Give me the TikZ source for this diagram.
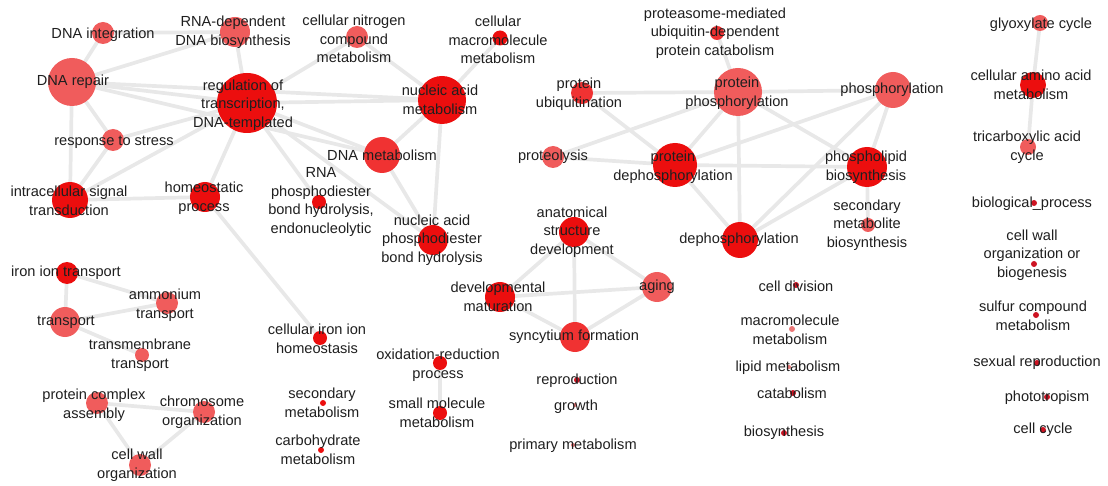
\documentclass[tikz,border=0pt]{standalone}
\usepackage{fontspec}
\setmainfont{Liberation Sans}
\usetikzlibrary{backgrounds}
\definecolor{redA}{RGB}{236,14,14}
\definecolor{redB}{RGB}{240,50,50}
\definecolor{redC}{RGB}{240,92,92}
\definecolor{darkdot}{RGB}{205,20,35}
\definecolor{pinkdot}{RGB}{235,120,120}
\definecolor{edgecol}{RGB}{232,232,232}
\tikzset{
  dot/.style={circle,inner sep=0pt,draw=none},
  lbl/.style={align=center,inner sep=0pt,font=\fontsize{14.6pt}{18.5pt}\selectfont,text=black!88},
  edge/.style={draw=edgecol,line width=3.7pt},
}
\begin{document}
\begin{tikzpicture}[x=1pt,y=-1pt]
\useasboundingbox (0,0) rectangle (1108,486);
% circles
\node[dot,minimum size=22pt,fill=redC] (dnaint) at (103,33) {};
\node[dot,minimum size=48pt,fill=redC] (dnarep) at (72,82) {};
\node[dot,minimum size=30pt,fill=redC] (rnadep) at (235,32) {};
\node[dot,minimum size=60pt,fill=redA] (reg) at (247,103) {};
\node[dot,minimum size=22pt,fill=redC] (stress) at (113,140) {};
\node[dot,minimum size=36pt,fill=redA] (intra) at (70,200) {};
\node[dot,minimum size=30pt,fill=redA] (homeo) at (205,197) {};
\node[dot,minimum size=22pt,fill=redC] (nitro) at (357,37) {};
\node[dot,minimum size=15pt,fill=redA] (macro) at (500,38) {};
\node[dot,minimum size=48pt,fill=redA] (nucmet) at (442,100) {};
\node[dot,minimum size=36pt,fill=redB] (dnamet) at (382,155) {};
\node[dot,minimum size=14pt,fill=redA] (rnaphos) at (319,202) {};
\node[dot,minimum size=30pt,fill=redA] (nucphos) at (433,240) {};
\node[dot,minimum size=14pt,fill=redB] (proteas) at (717,33) {};
\node[dot,minimum size=22pt,fill=redB] (protubi) at (582,93) {};
\node[dot,minimum size=48pt,fill=redC] (protphos) at (738,92) {};
\node[dot,minimum size=36pt,fill=redC] (phos) at (893,90) {};
\node[dot,minimum size=22pt,fill=redC] (proteo) at (553,157) {};
\node[dot,minimum size=44pt,fill=redA] (protdephos) at (675,165) {};
\node[dot,minimum size=40pt,fill=redA] (phlip) at (867,167) {};
\node[dot,minimum size=14pt,fill=redC] (secmetab) at (868,225) {};
\node[dot,minimum size=36pt,fill=redA] (dephos) at (740,240) {};
\node[dot,minimum size=30pt,fill=redA] (anat) at (574,232) {};
\node[dot,minimum size=30pt,fill=redA] (devmat) at (500,297) {};
\node[dot,minimum size=30pt,fill=redC] (aging) at (657,287) {};
\node[dot,minimum size=30pt,fill=redB] (syncy) at (575,337) {};
\node[dot,minimum size=14pt,fill=redA] (ironhomeo) at (320,338) {};
\node[dot,minimum size=14pt,fill=redA] (redox) at (440,363) {};
\node[dot,minimum size=14pt,fill=redA] (smallmol) at (440,413) {};
\node[dot,minimum size=6pt,fill=redA] (secmet) at (323,403) {};
\node[dot,minimum size=6pt,fill=redA] (carbo) at (321,450) {};
\node[dot,minimum size=6pt,fill=darkdot] (repro) at (577,380) {};
\node[dot,minimum size=4pt,fill=pinkdot] (growth) at (575,405) {};
\node[dot,minimum size=4pt,fill=pinkdot] (primary) at (573,445) {};
\node[dot,minimum size=6pt,fill=darkdot] (celldiv) at (796,285) {};
\node[dot,minimum size=6pt,fill=pinkdot] (macromet) at (792,329) {};
\node[dot,minimum size=4pt,fill=pinkdot] (lipid) at (789,367) {};
\node[dot,minimum size=6pt,fill=darkdot] (catab) at (793,393) {};
\node[dot,minimum size=6pt,fill=darkdot] (biosyn) at (784,433) {};
\node[dot,minimum size=16pt,fill=redC] (glyox) at (1040,23) {};
\node[dot,minimum size=26pt,fill=redA] (aminoacid) at (1033,85) {};
\node[dot,minimum size=16pt,fill=redC] (tca) at (1028,147) {};
\node[dot,minimum size=6pt,fill=darkdot] (bioproc) at (1034,203) {};
\node[dot,minimum size=6pt,fill=darkdot] (cellwallbio) at (1034,264) {};
\node[dot,minimum size=6pt,fill=darkdot] (sulfur) at (1036,315) {};
\node[dot,minimum size=6pt,fill=darkdot] (sexrep) at (1037,363) {};
\node[dot,minimum size=6pt,fill=darkdot] (photo) at (1047,397) {};
\node[dot,minimum size=6pt,fill=darkdot] (cellcycle) at (1043,430) {};
\node[dot,minimum size=22pt,fill=redA] (irontr) at (67,273) {};
\node[dot,minimum size=22pt,fill=redC] (ammon) at (167,303) {};
\node[dot,minimum size=30pt,fill=redC] (transp) at (65,322) {};
\node[dot,minimum size=14pt,fill=redC] (transmem) at (142,355) {};
\node[dot,minimum size=22pt,fill=redC] (protcomplex) at (97,403) {};
\node[dot,minimum size=22pt,fill=redC] (chromo) at (204,412) {};
\node[dot,minimum size=22pt,fill=redC] (cellwall) at (140,465) {};
% labels
\node[lbl] (dnaint-l) at (103,35) {DNA integration};
\node[lbl] (dnarep-l) at (73,82) {DNA repair};
\node[lbl] (rnadep-l) at (233,32) {RNA-dependent\\DNA biosynthesis};
\node[lbl] (reg-l) at (243,105) {regulation of\\transcription,\\DNA-templated};
\node[lbl] (stress-l) at (114,142) {response to stress};
\node[lbl] (intra-l) at (69,201) {intracellular signal\\transduction};
\node[lbl] (homeo-l) at (204,198) {homeostatic\\process};
\node[lbl] (nitro-l) at (354,39) {cellular nitrogen\\compound\\metabolism};
\node[lbl] (macro-l) at (498,40) {cellular\\macromolecule\\metabolism};
\node[lbl] (nucmet-l) at (440,100) {nucleic acid\\metabolism};
\node[lbl] (dnamet-l) at (382,155) {DNA metabolism};
\node[lbl] (rnaphos-l) at (321,202) {RNA\\phosphodiester\\bond hydrolysis,\\endonucleolytic};
\node[lbl] (nucphos-l) at (432,240) {nucleic acid\\phosphodiester\\bond hydrolysis};
\node[lbl] (proteas-l) at (715,33) {proteasome-mediated\\ubiquitin-dependent\\protein catabolism};
\node[lbl] (protubi-l) at (579,94) {protein\\ubiquitination};
\node[lbl] (protphos-l) at (737,93) {protein\\phosphorylation};
\node[lbl] (phos-l) at (892,90) {phosphorylation};
\node[lbl] (proteo-l) at (553,157) {proteolysis};
\node[lbl] (protdephos-l) at (673,167) {protein\\dephosphorylation};
\node[lbl] (phlip-l) at (866,167) {phospholipid\\biosynthesis};
\node[lbl] (secmetab-l) at (867,225) {secondary\\metabolite\\biosynthesis};
\node[lbl] (dephos-l) at (739,240) {dephosphorylation};
\node[lbl] (anat-l) at (572,232) {anatomical\\structure\\development};
\node[lbl] (devmat-l) at (498,297) {developmental\\maturation};
\node[lbl] (aging-l) at (657,287) {aging};
\node[lbl] (syncy-l) at (574,337) {syncytium formation};
\node[lbl] (ironhomeo-l) at (317,339) {cellular iron ion\\homeostasis};
\node[lbl] (redox-l) at (438,365) {oxidation-reduction\\process};
\node[lbl] (smallmol-l) at (437,413) {small molecule\\metabolism};
\node[lbl] (secmet-l) at (322,403) {secondary\\metabolism};
\node[lbl] (carbo-l) at (318,450) {carbohydrate\\metabolism};
\node[lbl] (repro-l) at (577,381) {reproduction};
\node[lbl] (growth-l) at (576,407) {growth};
\node[lbl] (primary-l) at (573,446) {primary metabolism};
\node[lbl] (celldiv-l) at (796,286) {cell division};
\node[lbl] (macromet-l) at (790,330) {macromolecule\\metabolism};
\node[lbl] (lipid-l) at (788,368) {lipid metabolism};
\node[lbl] (catab-l) at (792,393) {catabolism};
\node[lbl] (biosyn-l) at (784,433) {biosynthesis};
\node[lbl] (glyox-l) at (1041,25) {glyoxylate cycle};
\node[lbl] (aminoacid-l) at (1031,85) {cellular amino acid\\metabolism};
\node[lbl] (tca-l) at (1027,147) {tricarboxylic acid\\cycle};
\node[lbl] (bioproc-l) at (1032,204) {biological\_process};
\node[lbl] (cellwallbio-l) at (1032,255) {cell wall\\organization or\\biogenesis};
\node[lbl] (sulfur-l) at (1033,316) {sulfur compound\\metabolism};
\node[lbl] (sexrep-l) at (1037,363) {sexual reproduction};
\node[lbl] (photo-l) at (1047,398) {phototropism};
\node[lbl] (cellcycle-l) at (1043,430) {cell cycle};
\node[lbl] (irontr-l) at (66,273) {iron ion transport};
\node[lbl] (ammon-l) at (165,305) {ammonium\\transport};
\node[lbl] (transp-l) at (66,322) {transport};
\node[lbl] (transmem-l) at (140,355) {transmembrane\\transport};
\node[lbl] (protcomplex-l) at (94,405) {protein complex\\assembly};
\node[lbl] (chromo-l) at (202,412) {chromosome\\organization};
\node[lbl] (cellwall-l) at (137,465) {cell wall\\organization};
% edges
\begin{scope}[on background layer]
\foreach \a/\b in {dnaint/dnarep, dnaint/rnadep, dnarep/rnadep, dnarep/reg, dnarep/nucmet, dnarep/dnamet,
  dnarep/stress, dnarep/intra, stress/intra, stress/reg, intra/reg, intra/homeo, homeo/reg, homeo/ironhomeo,
  reg/rnadep, reg/nitro, reg/nucmet, reg/dnamet, reg/rnaphos, reg/nucphos,
  nitro/nucmet, macro/nucmet, nucmet/dnamet, nucmet/nucphos, dnamet/nucphos,
  protubi/protphos, protphos/phos, protubi/protdephos, proteo/protphos, proteo/protdephos,
  protphos/protdephos, protphos/dephos, protphos/phlip, protdephos/phos, protdephos/phlip,
  protdephos/dephos, phos/phlip, phos/dephos, phlip/dephos, phlip/secmetab, proteas/protphos,
  anat/devmat, anat/syncy, anat/aging, devmat/aging, devmat/syncy, aging/syncy,
  irontr/transp, irontr/ammon, transp/ammon, transp/transmem,
  protcomplex/chromo, protcomplex/cellwall, cellwall/chromo,
  redox/smallmol, glyox/aminoacid, aminoacid/tca}
  \draw[edge] (\a.center) -- (\b.center);
\end{scope}
\end{tikzpicture}
\end{document}
